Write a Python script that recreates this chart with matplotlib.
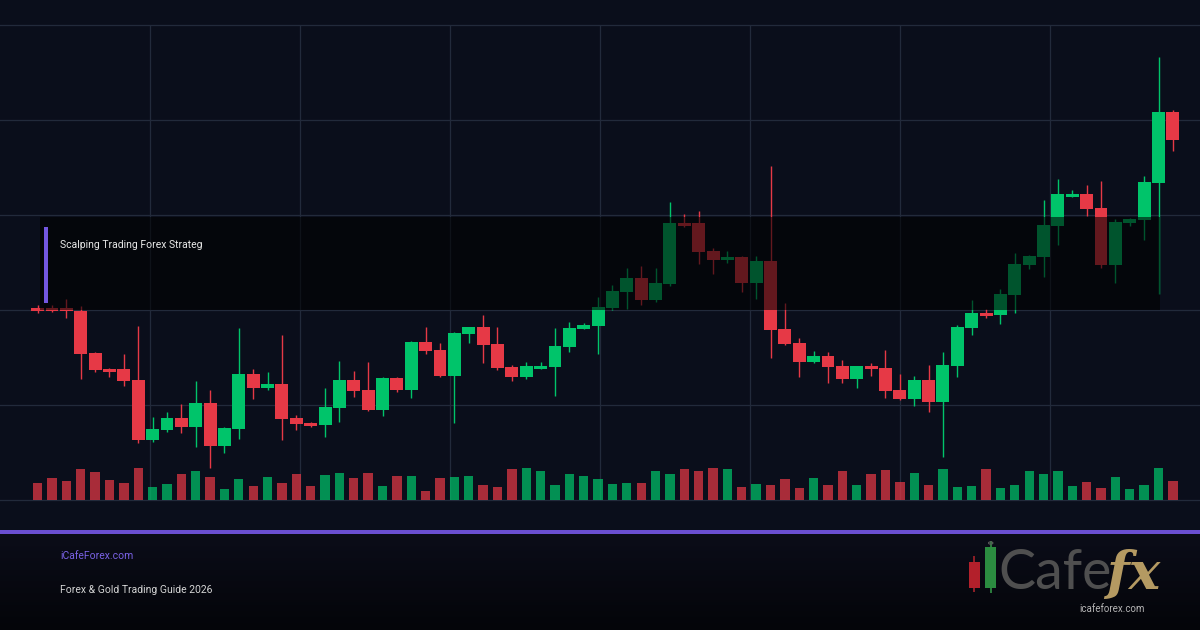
import numpy as np
import matplotlib.pyplot as plt
from matplotlib.patches import Rectangle, Circle
from matplotlib.colors import LinearSegmentedColormap

plt.rcParams['font.family'] = ['Roboto', 'DejaVu Sans']

# candle data (80 bars)
opens = [2396, 2396, 2396, 2394.5, 2373.5, 2365.5, 2365.5, 2360, 2330, 2335,
         2341, 2336.5, 2348.5, 2327, 2335.5, 2363, 2356, 2358, 2341, 2338.5,
         2337.5, 2346, 2360, 2355, 2345, 2361, 2355, 2379, 2375, 2362,
         2383, 2386.5, 2378, 2366.5, 2361.5, 2365.5, 2366.5, 2376.5, 2385.5, 2387,
         2396, 2404, 2411, 2400, 2408, 2438.5, 2438.5, 2424.5, 2420, 2421.5,
         2408.5, 2419.5, 2385.5, 2378.5, 2369, 2372, 2367, 2360.5, 2367, 2366,
         2355, 2350.5, 2360, 2349, 2367, 2386, 2393.5, 2392.5, 2402.5, 2417.5,
         2421.5, 2437, 2451.5, 2453, 2446, 2417.5, 2438.5, 2440, 2458.5, 2494]
highs = [2397.5, 2397.5, 2400.5, 2397, 2374, 2366, 2373, 2387, 2341.5, 2344,
         2348, 2359.5, 2355, 2336.5, 2386, 2365.5, 2364, 2382.5, 2342.5, 2339,
         2356, 2369.5, 2364.5, 2369, 2361.5, 2361.5, 2379.5, 2386.5, 2378.5, 2384,
         2386.5, 2392.5, 2386.5, 2367.5, 2369, 2369, 2386, 2389, 2388.5, 2401.5,
         2407.5, 2416, 2417, 2416, 2449, 2443, 2444.5, 2426, 2424.5, 2422,
         2422, 2467, 2398.5, 2381, 2374.5, 2374, 2370, 2367, 2368.5, 2375,
         2363, 2362, 2367.5, 2374, 2387.5, 2400, 2395.5, 2405.5, 2423.5, 2422.5,
         2450, 2460.5, 2455, 2457.5, 2459.5, 2440.5, 2441, 2462, 2521.5, 2495]
lows = [2393.5, 2394, 2391, 2360.5, 2364, 2361.5, 2357, 2328.5, 2329, 2334,
        2333.5, 2326.5, 2316, 2323.5, 2330.5, 2350.5, 2355, 2330, 2335, 2336.5,
        2331.5, 2339, 2351.5, 2344.5, 2342, 2354, 2351, 2373, 2361.5, 2338.5,
        2378.5, 2368.5, 2365, 2359.5, 2360.5, 2365.5, 2352, 2374, 2385.5, 2373,
        2395, 2395.5, 2397.5, 2399, 2407, 2436.5, 2418, 2413, 2418.5, 2404,
        2400.5, 2371, 2377.5, 2361.5, 2368.5, 2358.5, 2358.5, 2356, 2362, 2351,
        2350, 2347, 2344, 2321.5, 2361.5, 2382.5, 2391, 2388, 2393.5, 2415.5,
        2411.5, 2427.5, 2451.5, 2442, 2416, 2408.5, 2437, 2430, 2403, 2474.5]
closes = [2394.5, 2394.5, 2394.5, 2373, 2365, 2364, 2359.5, 2330, 2335.5, 2341,
          2336.5, 2348.5, 2327, 2336, 2363, 2356, 2358, 2340.5, 2338, 2337,
          2346.5, 2360, 2354.5, 2345, 2361, 2355, 2379, 2374.5, 2362, 2383.5,
          2386.5, 2377.5, 2366, 2361.5, 2367, 2367, 2377, 2386, 2387.5, 2396.5,
          2404.5, 2411, 2400, 2408.5, 2438.5, 2437, 2424, 2420, 2421.5, 2408.5,
          2419.5, 2385, 2378, 2369, 2372, 2366.5, 2360.5, 2367, 2365.5, 2354.5,
          2350.5, 2360, 2349, 2367.5, 2386.5, 2393.5, 2392, 2403, 2418, 2422,
          2437.5, 2453, 2453, 2445.5, 2417.5, 2439, 2440.5, 2459, 2494, 2480]
volumes = [1670, 2170, 1870, 3070, 2770, 1970, 1670, 3170, 1270, 1570,
           2570, 2870, 2270, 1070, 2070, 1370, 2270, 1670, 2570, 1370,
           2470, 2670, 2170, 2670, 1370, 2370, 2400, 900, 2200, 2300,
           2400, 1500, 1300, 3100, 3200, 2900, 1500, 2600, 2400, 2150,
           1570, 1670, 1670, 2870, 2570, 3070, 2870, 3170, 3070, 1270,
           1570, 1470, 2150, 1200, 2200, 1500, 2900, 1500, 2600, 3000,
           1800, 2700, 1500, 3100, 1300, 1450, 3070, 1170, 1470, 2870,
           2570, 2870, 1370, 1770, 1170, 2270, 1070, 1470, 3170, 1870]

BG = '#0a0e1b'
GRID = '#222a3b'
UP = '#00c46a'
DOWN = '#e63946'

W, H = 1200, 630
fig = plt.figure(figsize=(12, 6.3), dpi=100, facecolor=BG)


def fxp(px):
    return px / W


def fyp(py):
    return 1 - py / H


# price panel: pixel rows 25..500
ax = fig.add_axes([0, fyp(500), 1, 475 / H])
ax.set_facecolor(BG)
x = np.arange(len(opens))
xmin = -2.62
xmax = xmin + W / 14.37
ax.set_xlim(xmin, xmax)
ax.set_ylim(2300, 2537.5)
ax.set_xticks(np.linspace(xmin, xmax, 9)[1:-1])
ax.set_yticks(np.linspace(2300, 2537.5, 6))
ax.tick_params(length=0, labelbottom=False, labelleft=False)
for s in ax.spines.values():
    s.set_visible(False)
ax.grid(True, color=GRID, lw=0.9)
for gl in ax.get_ygridlines():
    gl.set_clip_on(False)
ax.set_axisbelow(True)

o = np.array(opens)
c = np.array(closes)
cols = [UP if cc >= oo else DOWN for oo, cc in zip(o, c)]
ax.vlines(x, lows, highs, colors=cols, lw=1.0, zorder=2)
ax.bar(x, np.maximum(np.abs(c - o), 0.8), bottom=np.minimum(o, c), width=0.9,
       color=cols, zorder=3)

# volume
vax = ax.twinx()
vax.set_ylim(0, 47500)
vax.bar(x, volumes, width=0.65, color=cols, alpha=0.72, zorder=1)
vax.set_yticks([])
vax.tick_params(length=0, labelright=False)
for s in vax.spines.values():
    s.set_visible(False)

# title card overlay
fig.add_artist(Rectangle((fxp(40), fyp(310)), fxp(1160) - fxp(40), 93 / H,
                         transform=fig.transFigure, facecolor='black',
                         alpha=0.57, lw=0, zorder=5))
fig.add_artist(Rectangle((fxp(43.5), fyp(303)), 4 / W, 76 / H,
                         transform=fig.transFigure, facecolor='#7357e0',
                         lw=0, zorder=6))
fig.text(fxp(60), fyp(245), 'Scalping Trading Forex Strateg', color='#e8e8e8',
         fontsize=7.5, ha='left', va='center', zorder=7)

# footer
fax = fig.add_axes([0, 0, 1, (H - 534) / H], zorder=-1)
grad = np.linspace(0, 1, 100).reshape(-1, 1)
cmap = LinearSegmentedColormap.from_list('foot', ['#0b0d19', '#040509'])
fax.imshow(grad, aspect='auto', cmap=cmap, extent=(0, 1, 0, 1))
fax.axis('off')

fig.add_artist(Rectangle((0, fyp(534)), 1, 4 / H, transform=fig.transFigure,
                         facecolor='#6a4fd2', lw=0, zorder=6))
fig.text(fxp(60), fyp(556), 'iCafeForex.com', color='#7a62e6', fontsize=7.5,
         ha='left', va='center')
fig.text(fxp(60), fyp(590), 'Forex & Gold Trading Guide 2026', color='#d4d4d4',
         fontsize=7.5, ha='left', va='center')

# logo
fig.add_artist(Rectangle((fxp(973), fyp(592)), 1.5 / W, 36 / H,
                         transform=fig.transFigure, facecolor='#8a1e26', lw=0))
fig.add_artist(Rectangle((fxp(968.5), fyp(588)), 11 / W, 26 / H,
                         transform=fig.transFigure, facecolor='#b3202b', lw=0))
fig.add_artist(Rectangle((fxp(990), fyp(593)), 1.5 / W, 52 / H,
                         transform=fig.transFigure, facecolor='#2a7a3c', lw=0))
fig.add_artist(Rectangle((fxp(985), fyp(588)), 11 / W, 41 / H,
                         transform=fig.transFigure, facecolor='#2b8c40', lw=0))
fig.add_artist(Circle((fxp(990.7), fyp(543)), 2.2 / W,
                      transform=fig.transFigure, facecolor='none',
                      edgecolor='#5a5a5a', lw=0.8))
fig.text(fxp(998), fyp(589), 'Cafe', color='#4f4f4f', fontsize=40,
         family=['Lato', 'DejaVu Sans'],
         ha='left', va='baseline')
fig.text(fxp(1106), fyp(589), 'fx', color='#b49a62', fontsize=38,
         family=['DejaVu Serif'], fontweight='bold', fontstyle='italic',
         ha='left', va='baseline')
fig.text(fxp(1112), fyp(609), 'icafeforex.com', color='#b5b5b5', fontsize=7,
         ha='center', va='center')

fig.savefig('out.png', dpi=100, facecolor=BG)
